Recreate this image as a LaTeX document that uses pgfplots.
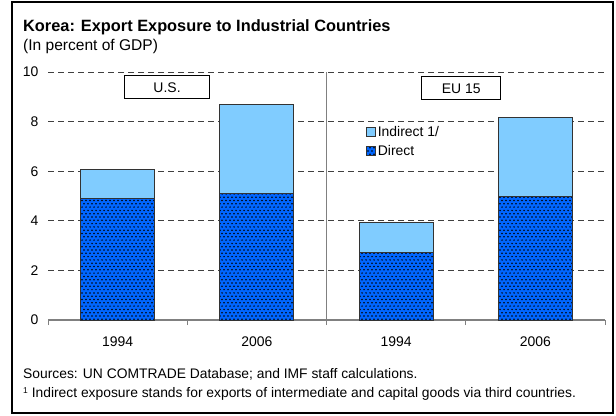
\documentclass[border=0pt]{standalone}
\usepackage{pgfplots}
\pgfplotsset{compat=1.18}
\usepackage{fontspec}
\setmainfont{Liberation Sans}
\usetikzlibrary{patterns}
\pgfdeclarepatternformonly{mydots}{\pgfpoint{-1bp}{-1bp}}{\pgfpoint{5bp}{7.6bp}}{\pgfpoint{4bp}{6.6bp}}{%
 \pgfpathcircle{\pgfpoint{0bp}{0bp}}{0.85bp}\pgfpathcircle{\pgfpoint{2bp}{3.3bp}}{0.85bp}\pgfusepath{fill}}
\definecolor{lightb}{RGB}{128,204,255}
\definecolor{darkb}{RGB}{0,102,255}
\begin{document}
\begin{tikzpicture}[x=1bp,y=1bp]
\useasboundingbox (0,0) rectangle (616,415);
\draw[line width=1.5bp] (12,2) rectangle (613,413);
\node[anchor=base west, inner sep=0, font=\bfseries\fontsize{16.4}{18}\selectfont] at (23,384) {Korea: Export Exposure to Industrial Countries};
\node[anchor=base west, inner sep=0, font=\fontsize{15.6}{17}\selectfont] at (23,364.5) {(In percent of GDP)};
\node[anchor=base west, inner sep=0, font=\fontsize{13.9}{15}\selectfont] at (23,37) {Sources: UN COMTRADE Database; and IMF staff calculations.};
\node[anchor=base west, inner sep=0, font=\fontsize{13.9}{15}\selectfont] at (23,17.5) {\raisebox{4.5bp}{\fontsize{8.5}{9}\selectfont 1} Indirect exposure stands for exports of intermediate and capital goods via third countries.};
\begin{axis}[at={(48bp,95bp)}, anchor=south west, scale only axis, width=557bp, height=248bp,
 xmin=-0.5, xmax=3.5, ymin=0, ymax=10, ybar stacked, bar width=74bp,
 axis line style={draw=none},
 xtick={0,1,2,3}, xticklabels={1994,2006,1994,2006},
 minor xtick={-0.5,0.5,1.5,2.5,3.5},
 xtick pos=bottom, ytick pos=left,
 major tick length=0pt, minor tick length=5bp, tick align=outside,
 minor x tick style={gray, line width=1bp},
 ytick={0,2,...,10}, ymajorgrids,
 grid style={black!75, line width=0.7bp, dash pattern=on 6bp off 4bp},
 tick label style={font=\fontsize{14}{16}\selectfont},
 /pgf/number format/assume math mode=true,
 yticklabel style={xshift=-6bp},
 xticklabel style={yshift=-13.5bp},
 legend style={draw=none, fill=none, at={(rel axis cs:0.571,0.79)}, anchor=north west,
   font=\fontsize{14}{16}\selectfont, row sep=3.5bp, inner sep=0pt,
   /tikz/every even column/.append style={column sep=0.5bp}},
 reverse legend, legend cell align=left,
 legend image code/.code={\draw[#1,draw=black!80, line width=0.6bp] (0bp,-4.5bp) rectangle (9bp,4.5bp);},
]
\addplot[fill=darkb, draw=black!80, line width=0.8bp, postaction={pattern=mydots}] coordinates {(0,4.89) (1,5.10) (2,2.72) (3,5.00)};
\addlegendentry{Direct}
\addplot[fill=lightb, draw=black!80, line width=0.8bp] coordinates {(0,1.19) (1,3.58) (2,1.20) (3,3.18)};
\addlegendentry{Indirect 1/}
\draw[gray, line width=1.2bp] (axis cs:-0.5,0) -- (axis cs:3.5,0);
\draw[gray, line width=1.5bp] (axis cs:1.5,-0.2) -- (axis cs:1.5,10);
\node[draw, fill=white, line width=0.8bp, minimum width=85bp, minimum height=23bp, inner sep=0pt, font=\fontsize{14}{16}\selectfont] at (axis cs:0.355,9.38) {U.S.};
\node[draw, fill=white, line width=0.8bp, minimum width=79bp, minimum height=23bp, inner sep=0pt, font=\fontsize{14}{16}\selectfont] at (axis cs:2.468,9.34) {EU 15};
\end{axis}
\end{tikzpicture}
\end{document}
